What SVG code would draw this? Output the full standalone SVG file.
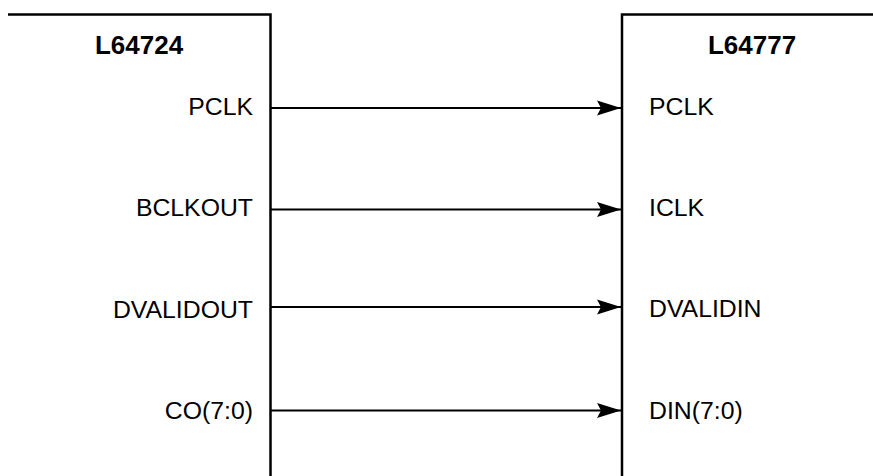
<svg xmlns="http://www.w3.org/2000/svg" width="873" height="476" viewBox="0 0 873 476">
<defs>
<marker id="ah" markerUnits="userSpaceOnUse" markerWidth="26" markerHeight="16" refX="25" refY="8" orient="auto">
<path d="M1,0.5 L25,8 L1,15.5 L5,8 Z" fill="#000"/>
</marker>
</defs>
<style>
.box{fill:none;stroke:#000;stroke-width:2.5}
.wire{stroke:#000;stroke-width:2;fill:none}
text{font-family:"Liberation Sans",Arial,sans-serif;font-size:24.8px;fill:#000}
.title{font-weight:bold;text-anchor:middle;font-size:26px}
.l{text-anchor:end}
.r{text-anchor:start}
</style>
<rect width="873" height="476" fill="#fff"/>
<g id="L64724">
<path class="box" d="M8,14.5 H270.5 V476"/>
<text class="title" x="139" y="54">L64724</text>
<text class="l" x="253" y="115">PCLK</text>
<text class="l" x="253" y="216">BCLKOUT</text>
<text class="l" x="253" y="318">DVALIDOUT</text>
<text class="l" x="253" y="419">CO(7:0)</text>
</g>
<g id="L64777">
<path class="box" d="M622,476 V14.5 H873"/>
<text class="title" x="752" y="54">L64777</text>
<text class="r" x="649" y="115">PCLK</text>
<text class="r" x="649" y="216">ICLK</text>
<text class="r" x="649" y="317">DVALIDIN</text>
<text class="r" x="649" y="419">DIN(7:0)</text>
</g>
<g id="connectors">
<line class="wire" x1="271" y1="108" x2="621" y2="108" marker-end="url(#ah)"/>
<line class="wire" x1="271" y1="209.5" x2="621" y2="209.5" marker-end="url(#ah)"/>
<line class="wire" x1="271" y1="307" x2="621" y2="307" marker-end="url(#ah)"/>
<line class="wire" x1="271" y1="410.5" x2="621" y2="410.5" marker-end="url(#ah)"/>
</g>
</svg>
